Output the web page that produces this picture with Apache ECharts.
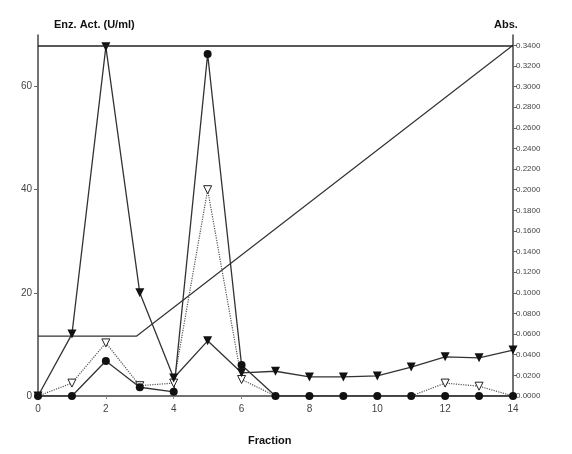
<!DOCTYPE html>
<html><head><meta charset="utf-8">
<script src="https://cdn.jsdelivr.net/npm/echarts@6/dist/echarts.min.js"></script>
<style>html,body{margin:0;padding:0;background:#fff}#c{width:572px;height:454px}</style>
</head><body><div id="c"></div>
<script>
const fractions = [0,1,2,3,4,5,6,7,8,9,10,11,12,13,14];
const actFilledTri = [0,12,67.7,20,3.5,10.7,4.5,4.8,3.7,3.7,3.9,5.6,7.6,7.4,8.9];
const actFilledCircle = [0,0,6.8,1.7,0.8,66.3,6,0,0,0,0,0,0,0,0];
const actOpenTri = [0,2.5,10.3,2,2.5,40,3.2,0,0,0,0,0,2.5,1.9,0];
const gradX = [0,2.9,14];
const gradAbs = [0.058,0.058,0.34];
const leftTicks = [0,20,40,60];
const rightTicks = [0,0.02,0.04,0.06,0.08,0.10,0.12,0.14,0.16,0.18,0.20,0.22,0.24,0.26,0.28,0.30,0.32,0.34];
const xTicks = [0,2,4,6,8,10,12,14];

const pairs = (xs, ys) => xs.map((x,i)=>[x, ys[i]]);
const lineCol = '#333';
const font = 'Liberation Sans';

const chart = echarts.init(document.getElementById('c'));
chart.setOption({
  animation:false,
  backgroundColor:'#fff',
  title:[
    {text:'Enz. Act. (U/ml)', left:49, top:14, textStyle:{fontFamily:font,fontSize:11,fontWeight:'bold',color:'#111'}},
    {text:'Abs.', left:489, top:14, textStyle:{fontFamily:font,fontSize:11,fontWeight:'bold',color:'#111'}},
    {text:'Fraction', left:243, top:430, textStyle:{fontFamily:font,fontSize:11,fontWeight:'bold',color:'#111'}}
  ],
  grid:{left:38, right:59, top:35, bottom:58},
  xAxis:{type:'value', min:0, max:14, interval:2,
    axisLine:{lineStyle:{color:'#444',width:1.5}},
    axisTick:{show:true,length:3,lineStyle:{color:'#888'}},
    axisLabel:{customValues:xTicks, fontFamily:font,fontSize:10,color:'#444',margin:8},
    splitLine:{show:false}},
  yAxis:[
    {type:'value', min:0, max:70, position:'left',
      axisLine:{show:true,lineStyle:{color:'#444',width:1.5}},
      axisTick:{show:true,customValues:leftTicks,length:4,lineStyle:{color:'#666'}},
      axisLabel:{customValues:leftTicks,fontFamily:font,fontSize:10,color:'#444',margin:6},
      splitLine:{show:false}},
    {type:'value', min:0, max:0.35, position:'right',
      axisLine:{show:true,lineStyle:{color:'#444',width:1.5}},
      axisTick:{show:true,customValues:rightTicks,length:4,lineStyle:{color:'#666'}},
      axisLabel:{customValues:rightTicks,fontFamily:font,fontSize:8,color:'#444',margin:3,
        formatter:v=>v.toFixed(4)},
      splitLine:{show:false}}
  ],
  series:[
    {type:'line', yAxisIndex:1, data:pairs(gradX,gradAbs), symbol:'none',
      lineStyle:{color:lineCol,width:1.2},
      markLine:{silent:true,symbol:'none',label:{show:false},
        lineStyle:{color:'#222',width:1.5,type:'solid'},
        data:[{yAxis:0.34}]}},
    {type:'line', data:pairs(fractions,actOpenTri), symbol:'triangle',
      symbolSize:v=>v[1]===0?0:8, symbolRotate:180,
      itemStyle:{color:'#fff',borderColor:'#222',borderWidth:1},
      lineStyle:{color:'#555',width:1.2,type:'dotted'}},
    {type:'line', data:pairs(fractions,actFilledCircle), symbol:'circle', symbolSize:8,
      itemStyle:{color:'#111'}, lineStyle:{color:lineCol,width:1.3}},
    {type:'line', data:pairs(fractions,actFilledTri), symbol:'triangle', symbolSize:9, symbolRotate:180,
      itemStyle:{color:'#111'}, lineStyle:{color:lineCol,width:1.3}}
  ]
});
</script></body></html>
